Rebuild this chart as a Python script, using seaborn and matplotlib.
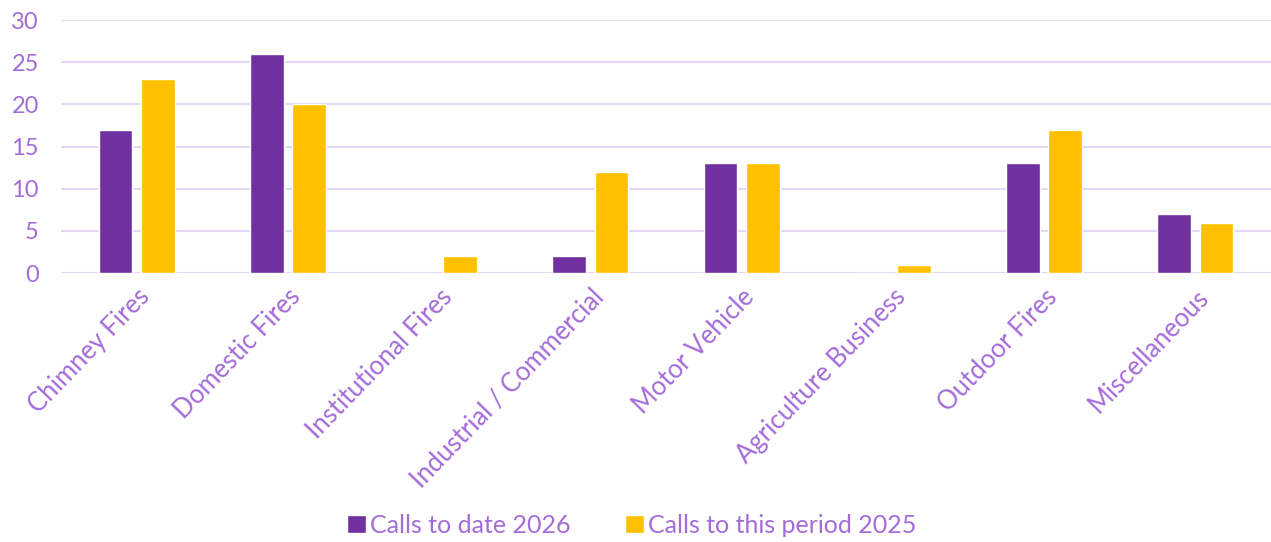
import pandas as pd
import matplotlib.pyplot as plt
import seaborn as sns

# dados do grafico
categorias = ["Chimney Fires", "Domestic Fires", "Institutional Fires", "Industrial / Commercial",
              "Motor Vehicle", "Agriculture Business", "Outdoor Fires", "Miscellaneous"]
calls_2026 = [17, 26, 0, 2, 13, 0, 13, 7]
calls_2025 = [23, 20, 2, 12, 13, 1, 17, 6]
series = ["Calls to date 2026", "Calls to this period 2025"]

cores = ["#7030A0", "#FFC000"]
texto = "#A46CD9"
grade = "#E4D6F6"

dados = pd.DataFrame({
    "Categoria": categorias * 2,
    "Serie": [series[0]] * len(categorias) + [series[1]] * len(categorias),
    "Total": calls_2026 + calls_2025,
})

sns.set_style("white")
plt.rcParams["font.family"] = ["Lato", "DejaVu Sans"]

fig = plt.figure(figsize=(12.71, 5.42), dpi=100)
ax = fig.add_axes([0.048, 0.496, 0.952, 0.467])

sns.barplot(data=dados, x="Categoria", y="Total", hue="Serie", palette=cores,
            width=0.56, gap=0.2, saturation=1, ax=ax)

ax.set_ylim(0, 30)
ax.set_yticks(range(0, 31, 5))
ax.set_xlim(-0.5, len(categorias) - 0.5)
ax.yaxis.grid(True, color=grade, linewidth=1.5)
ax.set_axisbelow(True)
for s in ax.spines.values():
    s.set_visible(False)
ax.set_xlabel("")
ax.set_ylabel("")
ax.tick_params(axis="y", colors=texto, labelsize=17, length=0, pad=16)
ax.tick_params(axis="x", colors=texto, labelsize=18.5, length=0, pad=8)
plt.setp(ax.get_xticklabels(), rotation=46, ha="right", rotation_mode="anchor")

ax.get_legend().remove()
handles, labels = ax.get_legend_handles_labels()
fig.legend(handles, labels, loc="center", bbox_to_anchor=(0.497, 0.031), ncol=2, frameon=False,
           fontsize=18, labelcolor=texto, handlelength=0.75, handleheight=0.75,
           handletextpad=0.15, columnspacing=2.2)

fig.savefig("out.png", dpi=100)
